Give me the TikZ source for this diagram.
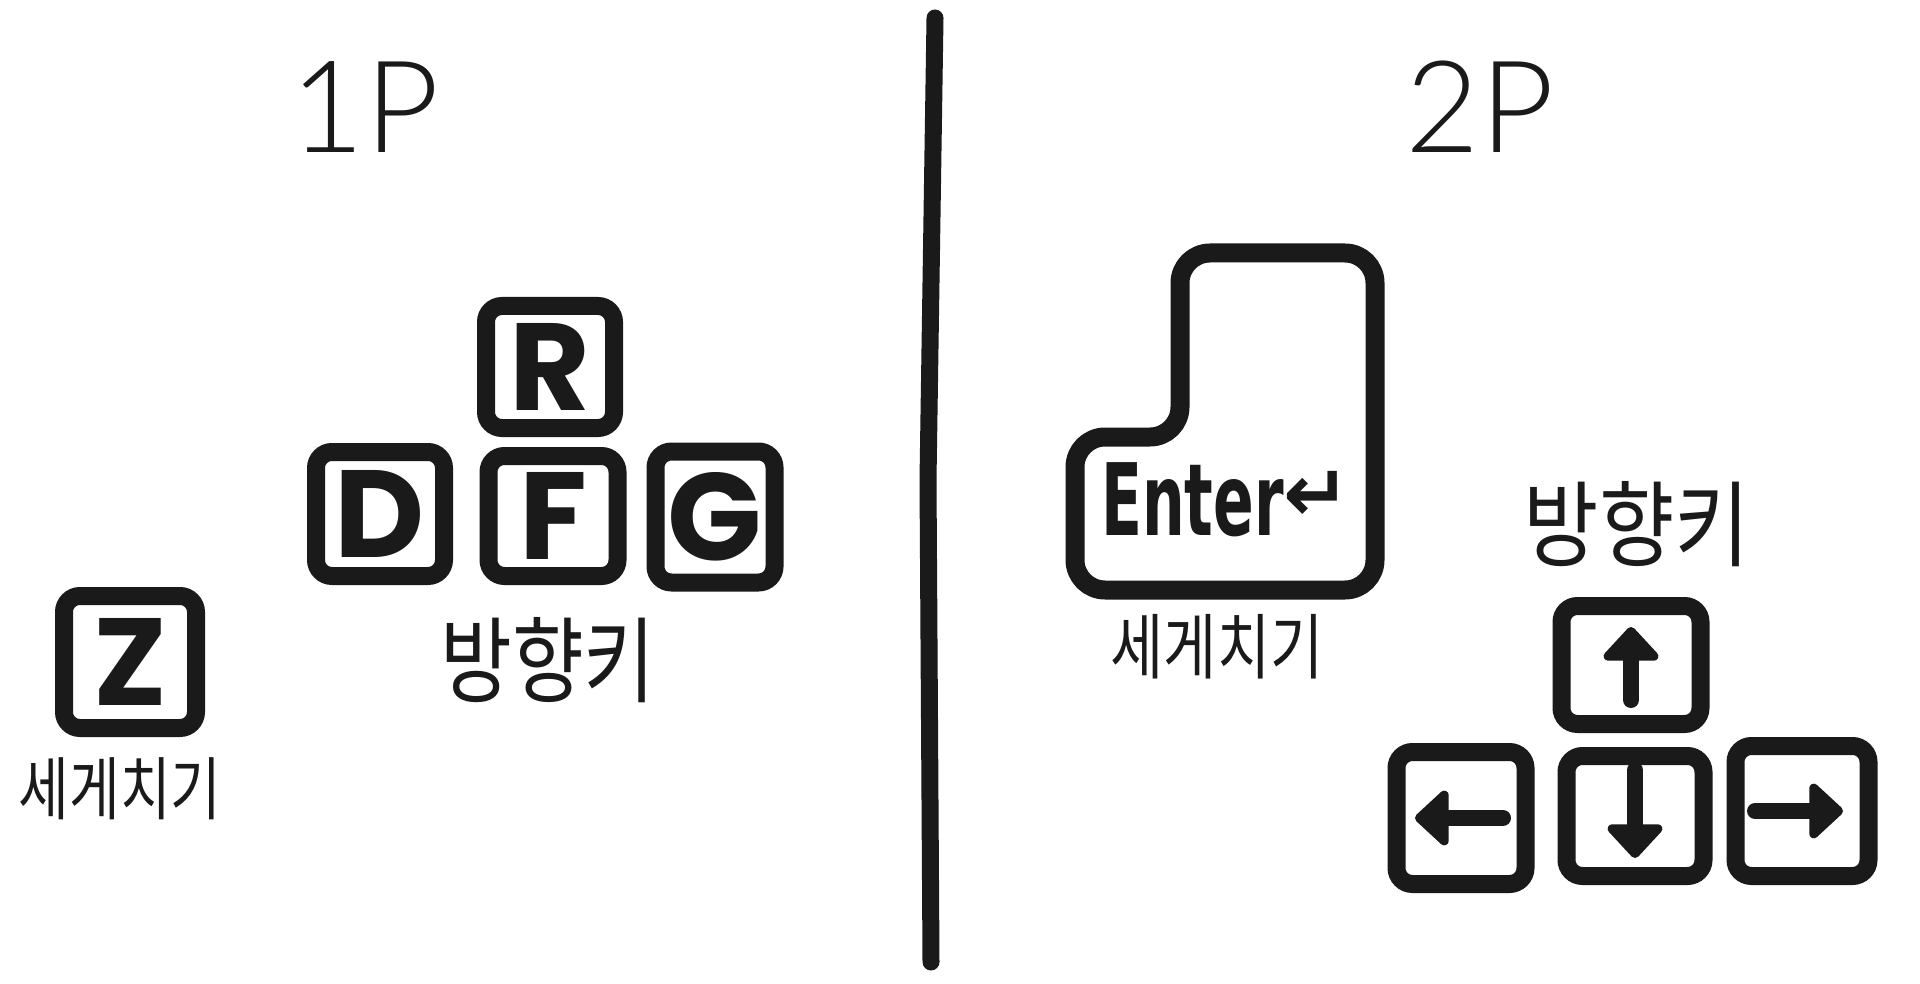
\documentclass[tikz,border=0pt]{standalone}
\usepackage{fontspec}
\usetikzlibrary{arrows.meta}
\newfontfamily\krfont{Noto Sans CJK KR}
\newfontfamily\keyfont{Poppins}
\newfontfamily\thinfont{Lato Light}
\newfontfamily\djfont{DejaVu Sans}
\definecolor{ink}{HTML}{1A1A1A}
\begin{document}
\begin{tikzpicture}[x=1pt,y=-1pt,
  keybox/.style={draw=ink, line width=18pt, rounded corners=16pt, inner sep=0pt,
    font=\keyfont\bfseries\fontsize{124}{124}\selectfont, text=ink},
  keyarrow/.style={draw=ink, line width=16pt, line cap=round,
    -{Triangle[width=64pt,length=36pt,round]}},
  krlabel/.style={font=\krfont\fontsize{78}{78}\selectfont, text=ink, inner sep=0pt},
  krsmall/.style={font=\krfont\fontsize{55}{55}\selectfont, text=ink, inner sep=0pt},
  playerlabel/.style={font=\thinfont\fontsize{128}{128}\selectfont, text=ink, inner sep=0pt},
  divider/.style={draw=ink, line width=17pt, line cap=round, line join=round},
  enterline/.style={draw=ink, line width=19pt, rounded corners=30pt, line join=round}]
\fill[white] (0,0) rectangle (1920,984);
\useasboundingbox (0,0) rectangle (1920,984);

% divider
\coordinate (divtop) at (935,18);
\coordinate (divmid) at (928,480);
\coordinate (divbot) at (931,962);
\draw[divider] (divtop) -- (divmid) -- (divbot);

% player labels
\node[playerlabel] (p1) at (365,107) {1P};
\node[playerlabel] (p2) at (1480,107) {2P};

% 1P keys
\node[keybox, minimum width=128pt, minimum height=122pt] (R) at (550,367) {R};
\node[keybox, minimum width=128pt, minimum height=124pt] (D) at (380,514) {D};
\node[keybox, minimum width=129pt, minimum height=120pt] (F) at (553,516) {F};
\node[keybox, minimum width=119pt, minimum height=131pt] (G) at (715,517) {G};
\node[krlabel] (dir1) at (548,660) {\scalebox{1}[1.2]{방향키}};

\node[keybox, minimum width=132pt, minimum height=132pt] (Z) at (130,662) {Z};
\node[krsmall] (hit1) at (120,789) {\scalebox{1}[1.25]{세게치기}};

% 2P enter key
\draw[enterline] (1180,253) -- (1375,253) -- (1375,590) -- (1075,590)
  -- (1075,437) -- (1180,437) -- cycle;
\node[font=\djfont\bfseries\fontsize{100}{100}\selectfont, text=ink, inner sep=0pt]
  (enter) at (1226,500) {\scalebox{0.6}[1]{Enter}\raisebox{14pt}{\scalebox{0.8}{↵}}};
\node[krsmall] (hit2) at (1217,647) {\scalebox{1.05}[1.3]{세게치기}};

% 2P arrow keys
\node[krlabel] (dir2) at (1637,524) {\scalebox{1.05}[1.2]{방향키}};
\node[keybox, minimum width=139pt, minimum height=118pt] (Up) at (1631,665) {};
\node[keybox, minimum width=129pt, minimum height=132pt] (Left) at (1461,818) {};
\node[keybox, minimum width=137pt, minimum height=120pt] (Down) at (1635,816) {};
\node[keybox, minimum width=133pt, minimum height=130pt] (Right) at (1802,811) {};

\draw[keyarrow] ([yshift=-35pt]Up.center) -- ([yshift=38pt]Up.center);
\draw[keyarrow] ([yshift=46pt]Down.center) -- ([yshift=-42pt]Down.center);
\draw[keyarrow] ([xshift=42pt]Left.center) -- ([xshift=-46pt]Left.center);
\draw[keyarrow] ([xshift=-47pt]Right.center) -- ([xshift=41pt]Right.center);
\end{tikzpicture}
\end{document}
